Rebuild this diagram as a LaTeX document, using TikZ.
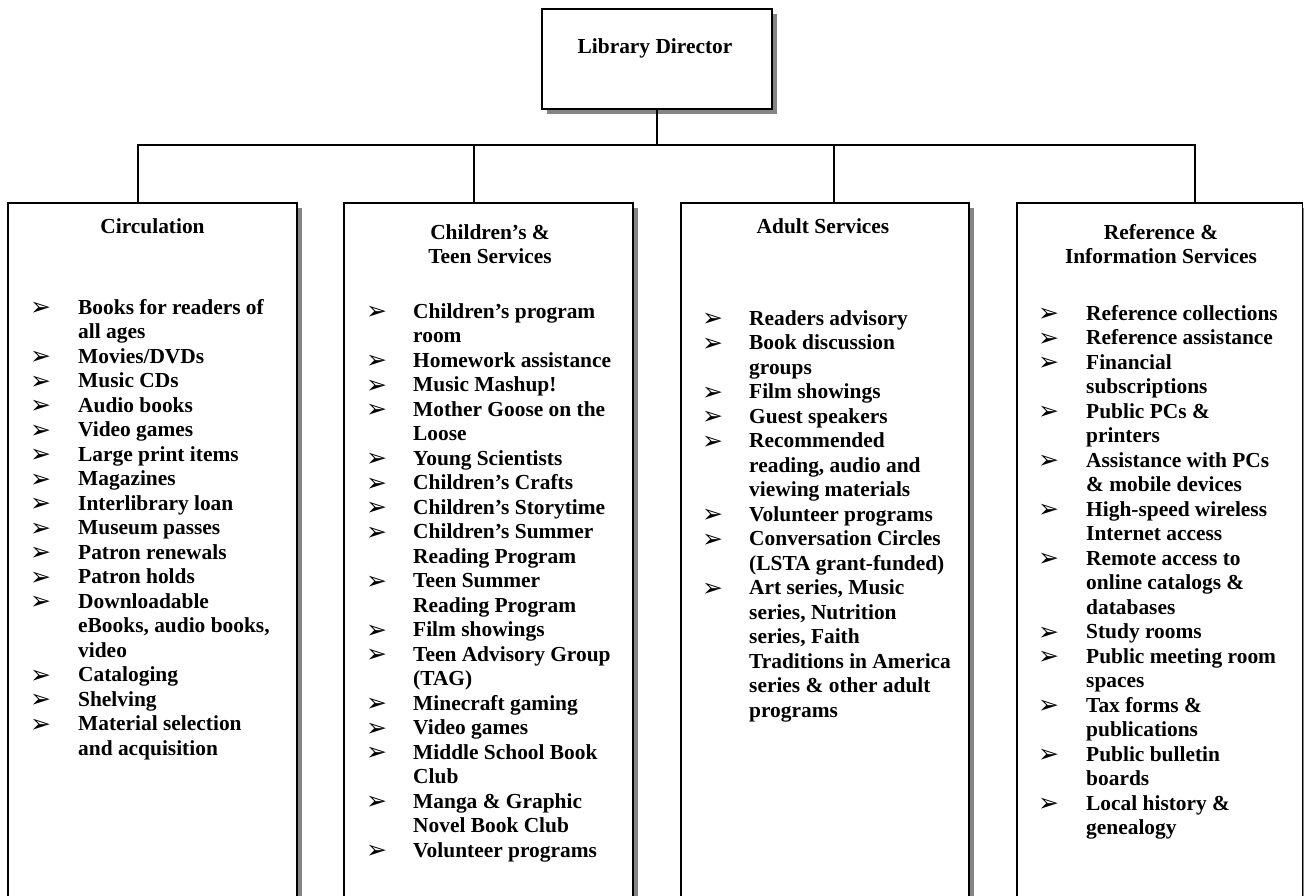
\documentclass[tikz,border=0pt]{standalone}
\usepackage{fontspec}
\setmainfont{Liberation Serif}
\newfontfamily\dvfont{DejaVu Sans}
\usetikzlibrary{shadows}
\newcommand\bul{\raisebox{-1.5pt}{\dvfont\fontsize{25}{25}\selectfont ➢}}
\newcommand\lstfont{\fontsize{21.4}{24.5}\selectfont\bfseries}
\begin{document}
\begin{tikzpicture}[x=1pt,y=-1pt,
  orgbox/.style={draw=black, line width=1.6pt, fill=white, inner sep=0pt, outer sep=0pt,
    general shadow={fill=black!48, shadow xshift=5pt, shadow yshift=-5pt}},
  conn/.style={draw=black, line width=1.4pt},
  ttl/.style={anchor=base, inner sep=0pt, font=\lstfont},
  lst/.style={anchor=base west, inner sep=0pt, font=\lstfont}]
\useasboundingbox (0,0) rectangle (1304,895);
\clip (0,0) rectangle (1304,895);
\fill[white] (0,0) rectangle (1304,895);

% boxes
\node[orgbox, minimum width=230pt, minimum height=100pt] (dir) at (657,59) {};
\node[orgbox, minimum width=289pt, minimum height=712pt] (b1) at (152.5,559) {};
\node[orgbox, minimum width=289pt, minimum height=712pt] (b2) at (488.5,559) {};
\node[orgbox, minimum width=288pt, minimum height=712pt] (b3) at (825,559) {};
\node[orgbox, minimum width=285.5pt, minimum height=712pt] (b4) at (1159.75,559) {};

% connectors
\coordinate (bus) at (657,145);
\coordinate (j1) at (138,145);
\coordinate (j2) at (474,145);
\coordinate (j3) at (834,145);
\coordinate (j4) at (1195,145);
\draw[conn] (dir.south) -- (bus);
\draw[conn, line join=miter] (j1 |- b1.north) -- (j1) -- (j4) -- (j4 |- b4.north);
\draw[conn] (j2) -- (j2 |- b2.north);
\draw[conn] (j3) -- (j3 |- b3.north);

% titles
\node[ttl] (tdir) at (655,53) {Library Director};
\node[ttl] (t1) at (152.5,233) {Circulation};
\node[ttl] (t2) at (490,239) {\begin{tabular}[t]{@{}c@{}}Children’s \&\\Teen Services\end{tabular}};
\node[ttl] (t3) at (823,233) {Adult Services};
\node[ttl] (t4) at (1161,239) {\begin{tabular}[t]{@{}c@{}}Reference \&\\Information Services\end{tabular}};

% lists
\node[lst] (l1) at (30,314) {\begin{tabular}[t]{@{}p{48pt}@{}l@{}}
\bul & Books for readers of\\
 & all ages\\
\bul & Movies/DVDs\\
\bul & Music CDs\\
\bul & Audio books\\
\bul & Video games\\
\bul & Large print items\\
\bul & Magazines\\
\bul & Interlibrary loan\\
\bul & Museum passes\\
\bul & Patron renewals\\
\bul & Patron holds\\
\bul & Downloadable\\
 & eBooks, audio books,\\
 & video\\
\bul & Cataloging\\
\bul & Shelving\\
\bul & Material selection\\
 & and acquisition
\end{tabular}};

\node[lst] (l2) at (366,318) {\begin{tabular}[t]{@{}p{47pt}@{}l@{}}
\bul & Children’s program\\
 & room\\
\bul & Homework assistance\\
\bul & Music Mashup!\\
\bul & Mother Goose on the\\
 & Loose\\
\bul & Young Scientists\\
\bul & Children’s Crafts\\
\bul & Children’s Storytime\\
\bul & Children’s Summer\\
 & Reading Program\\
\bul & Teen Summer\\
 & Reading Program\\
\bul & Film showings\\
\bul & Teen Advisory Group\\
 & (TAG)\\
\bul & Minecraft gaming\\
\bul & Video games\\
\bul & Middle School Book\\
 & Club\\
\bul & Manga \& Graphic\\
 & Novel Book Club\\
\bul & Volunteer programs
\end{tabular}};

\node[lst] (l3) at (702,325) {\begin{tabular}[t]{@{}p{47pt}@{}l@{}}
\bul & Readers advisory\\
\bul & Book discussion\\
 & groups\\
\bul & Film showings\\
\bul & Guest speakers\\
\bul & Recommended\\
 & reading, audio and\\
 & viewing materials\\
\bul & Volunteer programs\\
\bul & Conversation Circles\\
 & (LSTA grant-funded)\\
\bul & Art series, Music\\
 & series, Nutrition\\
 & series, Faith\\
 & Traditions in America\\
 & series \& other adult\\
 & programs
\end{tabular}};

\node[lst] (l4) at (1038,320) {\begin{tabular}[t]{@{}p{48pt}@{}l@{}}
\bul & Reference collections\\
\bul & Reference assistance\\
\bul & Financial\\
 & subscriptions\\
\bul & Public PCs \&\\
 & printers\\
\bul & Assistance with PCs\\
 & \& mobile devices\\
\bul & High-speed wireless\\
 & Internet access\\
\bul & Remote access to\\
 & online catalogs \&\\
 & databases\\
\bul & Study rooms\\
\bul & Public meeting room\\
 & spaces\\
\bul & Tax forms \&\\
 & publications\\
\bul & Public bulletin\\
 & boards\\
\bul & Local history \&\\
 & genealogy
\end{tabular}};
\end{tikzpicture}
\end{document}
